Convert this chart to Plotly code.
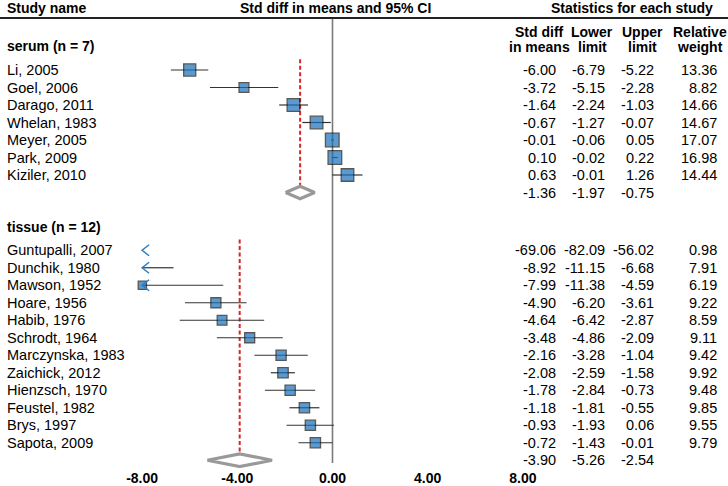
import math
import plotly.graph_objects as go

# ---------------- data ----------------
serum_names = ["Li, 2005", "Goel, 2006", "Darago, 2011", "Whelan, 1983",
               "Meyer, 2005", "Park, 2009", "Kiziler, 2010"]
serum_est = [-6.00, -3.72, -1.64, -0.67, -0.01, 0.10, 0.63]
serum_lo = [-6.79, -5.15, -2.24, -1.27, -0.06, -0.02, -0.01]
serum_hi = [-5.22, -2.28, -1.03, -0.07, 0.05, 0.22, 1.26]
serum_w = [13.36, 8.82, 14.66, 14.67, 17.07, 16.98, 14.44]
serum_summary = [-1.36, -1.97, -0.75]

tissue_names = ["Guntupalli, 2007", "Dunchik, 1980", "Mawson, 1952", "Hoare, 1956",
                "Habib, 1976", "Schrodt, 1964", "Marczynska, 1983", "Zaichick, 2012",
                "Hienzsch, 1970", "Feustel, 1982", "Brys, 1997", "Sapota, 2009"]
tissue_est = [-69.06, -8.92, -7.99, -4.90, -4.64, -3.48, -2.16, -2.08, -1.78, -1.18, -0.93, -0.72]
tissue_lo = [-82.09, -11.15, -11.38, -6.20, -6.42, -4.86, -3.28, -2.59, -2.84, -1.81, -1.93, -1.43]
tissue_hi = [-56.02, -6.68, -4.59, -3.61, -2.87, -2.09, -1.04, -1.58, -0.73, -0.55, 0.06, -0.01]
tissue_w = [0.98, 7.91, 6.19, 9.22, 8.59, 9.11, 9.42, 9.92, 9.48, 9.85, 9.55, 9.79]
tissue_summary = [-3.90, -5.26, -2.54]

group_labels = ["serum (n = 7)", "tissue (n = 12)"]
tick_vals = [-8, -4, 0, 4, 8]
tick_labels = ["-8.00", "-4.00", "0.00", "4.00", "8.00"]

# ---------------- layout constants ----------------
W, H = 728, 486
MB = 18
PLOT_H = H - MB
ROW_PX = 17.5
X0_PX = 332.5      # pixel of x=0
PX_PER_UNIT = 23.8
XMIN, XMAX = -8, 8
FONT = "Liberation Sans, Arial, sans-serif"
BLUE = "#176fbb"

def px2x(px):
    return (px - X0_PX) / PX_PER_UNIT

def px2y(py):
    return py / ROW_PX

groups = [
    dict(label=group_labels[0], names=serum_names, est=serum_est, lo=serum_lo,
         hi=serum_hi, w=serum_w, summ=serum_summary, first=4.0),
    dict(label=group_labels[1], names=tissue_names, est=tissue_est, lo=tissue_lo,
         hi=tissue_hi, w=tissue_w, summ=tissue_summary, first=14.3),
]

fig = go.Figure()
ann = []
shapes = []

col_right_px = [558, 607, 656, 719]

def txt(xpx, y, s, anchor="left", bold=False, size=14.5, color="#000"):
    ann.append(dict(x=xpx / W, xref="paper", y=y, yref="y", text=(f"<b>{s}</b>" if bold else s),
                    showarrow=False, xanchor=anchor, yanchor="middle",
                    font=dict(family=FONT, size=size, color=color)))

ci_x, ci_y = [], []
arr_x, arr_y = [], []
sq_x, sq_y, sq_s = [], [], []
dia_traces = []
red_lines = []
last_y = 0

for g in groups:
    first = g["first"]
    txt(5, first - 1.35, g["label"], bold=True, size=14)
    n = len(g["names"])
    for i in range(n):
        y = first + i
        txt(5, y, g["names"][i])
        vals = [g["est"][i], g["lo"][i], g["hi"][i], g["w"][i]]
        for c, v in enumerate(vals):
            txt(col_right_px[c], y, f"{v:.2f}", anchor="right")
        lo, hi, est = g["lo"][i], g["hi"][i], g["est"][i]
        a, b = max(lo, XMIN), min(hi, XMAX)
        if b > a:
            ci_x += [a, b, None]
            ci_y += [y, y, None]
        if lo < XMIN:
            dx = 7 / PX_PER_UNIT
            dy = 5.5 / ROW_PX
            arr_x += [XMIN + dx, XMIN, XMIN + dx, None]
            arr_y += [y - dy, y, y + dy, None]
        if XMIN <= est <= XMAX:
            sq_x.append(est)
            sq_y.append(y)
            sq_s.append(3.3 * math.sqrt(g["w"][i]))
    ys = first + n
    est, lo, hi = g["summ"]
    for c, v in enumerate([est, lo, hi]):
        txt(col_right_px[c], ys, f"{v:.2f}", anchor="right")
    h = 6.3 / ROW_PX
    dia_traces.append(([lo, est, hi, est, lo], [ys, ys - h, ys, ys + h, ys]))
    red_lines.append((est, first - 0.62, ys - h))
    last_y = ys

# zero line
fig.add_trace(go.Scatter(x=[0, 0], y=[px2y(18), last_y + 0.15], mode="lines",
                         line=dict(color="#7a7a7a", width=1.6), hoverinfo="skip"))
# red dashed summary lines
for est, y0, y1 in red_lines:
    fig.add_trace(go.Scatter(x=[est, est], y=[y0, y1], mode="lines",
                             line=dict(color="#d62728", width=2, dash="4px,2.5px"),
                             hoverinfo="skip"))
# CI lines
fig.add_trace(go.Scatter(x=ci_x, y=ci_y, mode="lines",
                         line=dict(color="#333333", width=1.2), hoverinfo="skip"))
# squares
fig.add_trace(go.Scatter(x=sq_x, y=sq_y, mode="markers",
                         marker=dict(symbol="square", size=sq_s, color=BLUE,
                                     line=dict(color="#111111", width=1.3)),
                         hoverinfo="skip"))
# arrows
fig.add_trace(go.Scatter(x=arr_x, y=arr_y, mode="lines",
                         line=dict(color="#2b7fc4", width=1.5), hoverinfo="skip"))
# diamonds
for dx, dy in dia_traces:
    fig.add_trace(go.Scatter(x=dx, y=dy, mode="lines", fill="toself", fillcolor="white",
                             line=dict(color="#999999", width=3.2), hoverinfo="skip"))

# headers
txt(5, px2y(8), "Study name", bold=True, size=14)
txt(335.5, px2y(8), "Std diff in means and 95% CI", anchor="center", bold=True, size=14)
txt(632, px2y(8), "Statistics for each study", anchor="center", bold=True, size=14)
hdr = [("Std diff", "in means", 539), ("Lower", "limit", 592), ("Upper", "limit", 642), ("Relative", "weight", 700)]
for l1, l2, cx in hdr:
    txt(cx, px2y(32), l1, anchor="center", bold=True, size=14)
    txt(cx, px2y(47), l2, anchor="center", bold=True, size=14)

shapes.append(dict(type="line", xref="paper", yref="y", x0=0, x1=1,
                   y0=px2y(18), y1=px2y(18), line=dict(color="#222222", width=2)))

fig.update_layout(
    width=W, height=H,
    margin=dict(l=0, r=0, t=0, b=MB),
    paper_bgcolor="white", plot_bgcolor="white",
    showlegend=False,
    annotations=ann, shapes=shapes,
    xaxis=dict(range=[px2x(0), px2x(W)], tickvals=tick_vals,
               ticktext=[f"<b>{t}</b>" for t in tick_labels],
               tickfont=dict(family=FONT, size=14, color="#000"),
               showgrid=False, zeroline=False, showline=False, ticks="",
               automargin=False, fixedrange=True),
    yaxis=dict(range=[PLOT_H / ROW_PX, 0], visible=False, showgrid=False,
               zeroline=False, fixedrange=True),
)

fig.write_html("out.html", config={"displayModeBar": False},
               post_script="document.body.style.margin='0px';document.body.style.overflow='hidden';")
